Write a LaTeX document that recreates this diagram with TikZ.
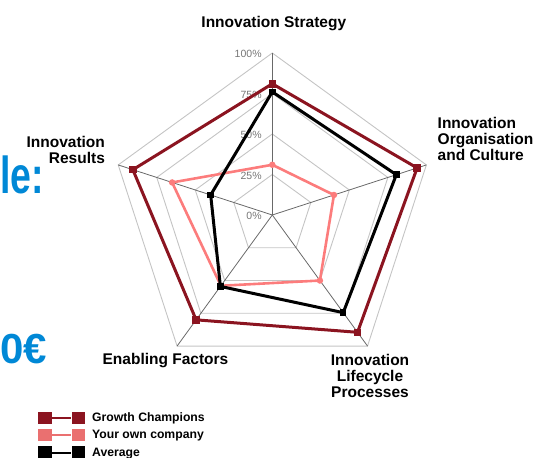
\documentclass[tikz,border=0pt]{standalone}
\usepackage{fontspec}
\setmainfont{Liberation Sans}
\definecolor{champ}{RGB}{139,20,32}
\definecolor{own}{RGB}{252,124,124}
\definecolor{ownkey}{RGB}{234,112,112}
\definecolor{ringgray}{RGB}{196,196,196}
\definecolor{spokegray}{RGB}{105,105,105}
\definecolor{pctgray}{RGB}{118,118,118}
\definecolor{slideblue}{RGB}{0,136,214}
\newcommand{\R}{162}
\tikzset{
  ring/.style={ringgray, line width=0.9pt},
  spoke/.style={spokegray, line width=0.8pt},
  pct/.style={pctgray, font=\fontsize{10.5}{12}\selectfont, anchor=east, inner sep=0pt},
  axislabel/.style={font=\fontsize{15.5}{16}\selectfont\bfseries, inner sep=0pt},
  bigblue/.style={slideblue, font=\fontsize{52}{56}\selectfont\bfseries, inner sep=0pt},
  champline/.style={champ, line width=3pt, line join=round},
  ownline/.style={own, line width=2.6pt, line join=round},
  avgline/.style={black, line width=3pt, line join=round},
  champmark/.style={fill=champ, minimum size=7.5pt, inner sep=0pt},
  ownmark/.style={circle, fill=own, minimum size=6.5pt, inner sep=0pt},
  avgmark/.style={fill=black, minimum size=6.5pt, inner sep=0pt},
  keybox/.style={minimum width=13.4pt, minimum height=12.6pt, inner sep=0pt},
  keytext/.style={anchor=base west, font=\fontsize{12.2}{14}\selectfont\bfseries, inner sep=0pt}
}
\begin{document}
\begin{tikzpicture}[x=1pt,y=1pt]
\useasboundingbox (0,0) rectangle (533,458);
% slide text cut off at the left edge
\node[bigblue, anchor=base west, xscale=0.72] (slidetitle) at (0,264.7) {le:};
\node[bigblue, anchor=base east, font=\fontsize{42}{46}\selectfont\bfseries] (slideprice) at (47,94.5) {0€};
\begin{scope}[shift={(272.3,243)}]
% draw rings
\foreach \p in {0.25,0.5,0.75,1}
  \draw[ring] ({90}:{\p*\R}) -- ({18}:{\p*\R}) -- ({-54}:{\p*\R}) -- ({-126}:{\p*\R}) -- ({162}:{\p*\R}) -- cycle;
% draw spokes
\coordinate (c) at (0,0);
\foreach \a [count=\i] in {90,18,-54,-126,162}
  \coordinate (v\i) at ({\a}:{\R});
\foreach \i in {1,...,5}
  \draw[spoke] (c) -- (v\i);
% draw percent labels
\foreach \p in {0,25,50,75,100}
  \node[pct] (pct\p) at (-10.5,{\p/100*\R-1}) {\p\%};
% draw axis labels (base = last line)
\node[axislabel, anchor=base] (strategy) at (1.5,187.7) {Innovation Strategy};
\node[axislabel, anchor=base west, align=left] (culture) at (165.2,54) {Innovation\\Organisation\\and Culture};
\node[axislabel, anchor=base east, align=right] (results) at (-167.2,51.7) {Innovation\\Results};
\node[axislabel, anchor=base] (enabling) at (-106.8,-150) {Enabling Factors};
\node[axislabel, anchor=base, align=center] (lifecycle) at (97.7,-183) {Innovation\\Lifecycle\\Processes};
% data points
\foreach \v [count=\i] in {0.81,0.94,0.895,0.80,0.905}
  \coordinate (gc\i) at ({90-72*(\i-1)}:{\v*\R});
\foreach \v [count=\i] in {0.31,0.40,0.50,0.54,0.65}
  \coordinate (oc\i) at ({90-72*(\i-1)}:{\v*\R});
\foreach \v [count=\i] in {0.76,0.805,0.745,0.545,0.40}
  \coordinate (av\i) at ({90-72*(\i-1)}:{\v*\R});
% draw series
\draw[champline] (gc1) -- (gc2) -- (gc3) -- (gc4) -- (gc5) -- cycle;
\foreach \i in {1,...,5}
  \node[champmark] (gcm\i) at (gc\i) {};
\draw[ownline] (oc1) -- (oc2) -- (oc3) -- (oc4) -- (oc5) -- cycle;
\foreach \i in {1,...,5}
  \node[ownmark] (ocm\i) at (oc\i) {};
\draw[avgline] (av1) -- (av2) -- (av3) -- (av4) -- (av5) -- cycle;
\foreach \i in {1,...,5}
  \node[avgmark] (avm\i) at (av\i) {};
\end{scope}
% draw legend
\foreach \c/\y/\t [count=\i] in {champ/40/Growth Champions, ownkey/23/Your own company, black/5.3/Average}
{
  \node[keybox, fill=\c] (keya\i) at (45,\y) {};
  \node[keybox, fill=\c] (keyb\i) at (78.3,\y) {};
  \draw[\c, line width=2.2pt] (keya\i) -- (keyb\i);
  \node[keytext] (keyt\i) at (92,\y-3.7) {\t};
}
\end{tikzpicture}
\end{document}
